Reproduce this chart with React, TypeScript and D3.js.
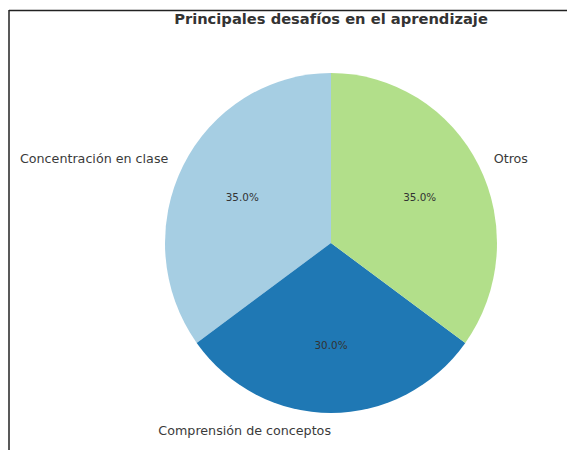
import React from "react";
import * as d3 from "d3";

const categories = ["Concentración en clase", "Comprensión de conceptos", "Otros"];
const values = [35, 30, 35];
const colors = ["#a6cee3", "#1f78b4", "#b2df8a"];
const title = "Principales desafíos en el aprendizaje";

export default function App() {
  const W = 567, H = 450;
  const cx = 331, cy = 243, r = 170, rx = 166;
  const sx = rx / r;
  const total = d3.sum(values);
  const pie = d3.pie<number>().sort(null).startAngle(0).endAngle(-2 * Math.PI);
  const arcs = pie(values);
  const arc = d3.arc<d3.PieArcDatum<number>>().innerRadius(0).outerRadius(r);
  const labelArc = d3.arc<d3.PieArcDatum<number>>().innerRadius(r * 1.1).outerRadius(r * 1.1);
  const pctArc = d3.arc<d3.PieArcDatum<number>>().innerRadius(r * 0.6).outerRadius(r * 0.6);
  const font = "DejaVu Sans, sans-serif";
  return (
    <svg width={W} height={H} style={{ position: "absolute", left: 0, top: 0, background: "#fff" }}>
      <line x1={9} y1={10.5} x2={W} y2={10.5} stroke="#222" strokeWidth={1.5} />
      <line x1={9} y1={10} x2={9} y2={H} stroke="#222" strokeWidth={1.5} />
      <text x={cx} y={18} textAnchor="middle" dominantBaseline="central" fontFamily={font}
        fontWeight="bold" fontSize={14.7} fill="#333">{title}</text>
      <g transform={`translate(${cx},${cy})`}>
        <g transform={`scale(${sx},1)`}>
          {arcs.map((a, i) => (
            <path key={i} d={arc(a) || ""} fill={colors[i]} />
          ))}
        </g>
        {arcs.map((a, i) => {
          const [lx, ly] = labelArc.centroid(a);
          return (
            <text key={"l" + i} x={lx * sx} y={ly} textAnchor={lx < 0 ? "end" : "start"}
              dominantBaseline="central" fontFamily={font} fontSize={12.7} fill="#3a3a3a">
              {categories[i]}
            </text>
          );
        })}
        {arcs.map((a, i) => {
          const [px, py] = pctArc.centroid(a);
          return (
            <text key={"p" + i} x={px * sx} y={py} textAnchor="middle" dominantBaseline="central"
              fontFamily={font} fontSize={10.4} fill="#333">
              {((values[i] / total) * 100).toFixed(1) + "%"}
            </text>
          );
        })}
      </g>
    </svg>
  );
}
